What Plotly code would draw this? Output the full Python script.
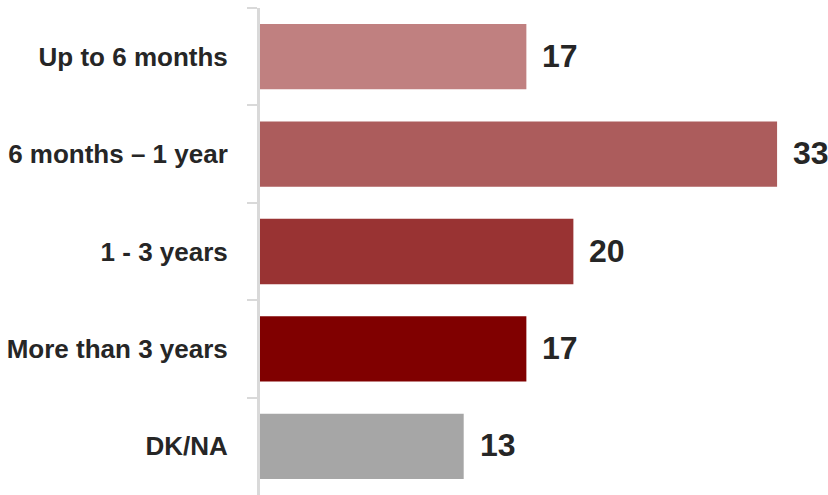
import plotly.graph_objects as go

categories = ["Up to 6 months", "6 months – 1 year", "1 - 3 years", "More than 3 years", "DK/NA"]
values = [17, 33, 20, 17, 13]
colors = ["#C08080", "#AC5C5C", "#993333", "#800000", "#A6A6A6"]

FONT = "Liberation Sans, Arial, sans-serif"

fig = go.Figure()
fig.add_trace(go.Bar(
    x=values, y=categories, orientation="h",
    marker=dict(color=colors, line=dict(width=0)),
    hoverinfo="skip",
))
for c, v in zip(categories, values):
    fig.add_annotation(
        x=v, y=c, text=str(v), showarrow=False, xanchor="left", xshift=14, yshift=1,
        font=dict(family=FONT, size=32, color="#262626", weight="bold"),
    )

fig.update_layout(
    width=828, height=495,
    margin=dict(l=260, r=0, t=8, b=0, autoexpand=False),
    paper_bgcolor="white", plot_bgcolor="white",
    bargap=0.33,
    showlegend=False,
    xaxis=dict(range=[0, 36.25], visible=False, fixedrange=True, automargin=False),
    yaxis=dict(
        autorange="reversed", automargin=False,
        showline=True, linecolor="#D9D9D9", linewidth=3,
        ticks="outside", tickson="boundaries", ticklen=10, tickwidth=2, tickcolor="#D9D9D9",
        ticklabelstandoff=24,
        tickfont=dict(family=FONT, size=26, color="#262626", weight="bold"),
        showgrid=False, zeroline=False,
    ),
)

fig.write_html(
    "out.html",
    config={"displayModeBar": False},
    post_script="document.body.style.margin='0';document.body.style.overflow='hidden';",
)
